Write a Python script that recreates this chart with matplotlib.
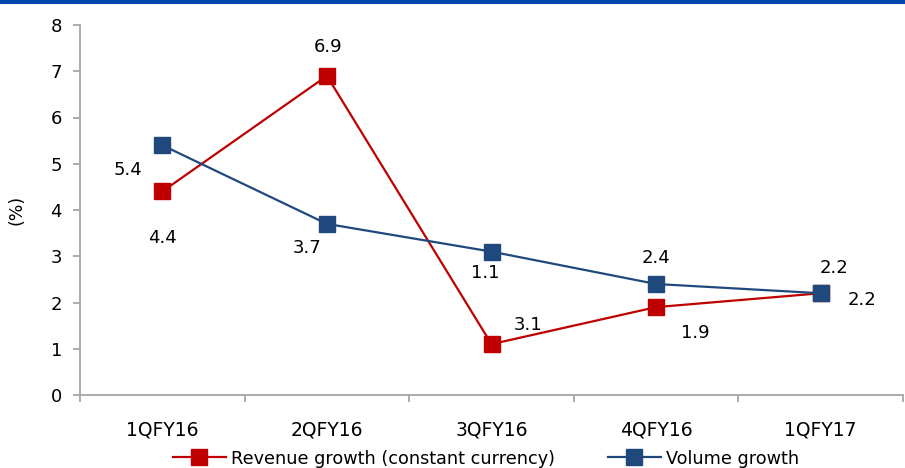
import matplotlib
matplotlib.use('Agg')
import matplotlib.pyplot as plt
from matplotlib.patches import Rectangle

# Quarterly growth figures (%)
quarters = ['1QFY16', '2QFY16', '3QFY16', '4QFY16', '1QFY17']
revenue_growth = [4.4, 6.9, 1.1, 1.9, 2.2]
volume_growth = [5.4, 3.7, 3.1, 2.4, 2.2]

# where each value label sits (data coords)
revenue_label_pos = [(0.0, 3.39), (1.01, 7.52), (1.96, 2.64), (3.24, 1.34), (4.25, 2.05)]
volume_label_pos = [(-0.21, 4.86), (0.88, 3.18), (2.22, 1.51), (3.0, 2.96), (4.08, 2.75)]

red = '#C00000'
blue = '#1F497D'
grey = '#A6A6A6'

plt.rcParams['font.family'] = ['DejaVu Sans']
plt.rcParams['font.size'] = 12

fig = plt.figure(figsize=(9.05, 4.68), dpi=100)
ax = fig.add_axes([80 / 905, 73 / 468, 823 / 905, 370 / 468])

x = list(range(len(quarters)))
ax.plot(x, revenue_growth, color=red, lw=1.6, marker='s', ms=11,
        label='Revenue growth (constant currency)', zorder=3)
ax.plot(x, volume_growth, color=blue, lw=1.6, marker='s', ms=11,
        label='Volume growth', zorder=3)

for v, (tx, ty) in zip(revenue_growth, revenue_label_pos):
    ax.text(tx, ty, f'{v:.1f}', ha='center', va='center', fontsize=13)
for v, (tx, ty) in zip(volume_growth, volume_label_pos):
    ax.text(tx, ty, f'{v:.1f}', ha='center', va='center', fontsize=13)

ax.set_xlim(-0.5, 4.5)
ax.set_ylim(0, 8)
ax.set_yticks(range(0, 9))
ax.set_xticks(x)
ax.set_xticklabels(quarters)
ax.set_xticks([i - 0.5 for i in range(len(quarters) + 1)], minor=True)
ax.tick_params(axis='x', which='major', length=0, pad=18, labelsize=13.5)
ax.tick_params(axis='x', which='minor', length=5, color=grey, width=1.3)
ax.tick_params(axis='y', length=5, color=grey, width=1.3, pad=8, labelsize=13)
ax.set_ylabel('(%)', fontsize=12.5, labelpad=18)

for side in ['top', 'right']:
    ax.spines[side].set_visible(False)
for side in ['left', 'bottom']:
    ax.spines[side].set_color(grey)
    ax.spines[side].set_linewidth(1.3)

# blue rule across the top
fig.add_artist(Rectangle((0, 1 - 4 / 468), 1, 4 / 468, transform=fig.transFigure,
                         color='#0047AB', lw=0))

fig.legend(loc='center', bbox_to_anchor=(0.537, 0.02), ncol=2, frameon=False,
           handlelength=3.0, columnspacing=3.0, handletextpad=0.3,
           fontsize=12.7, borderaxespad=0)

fig.savefig('out.png', dpi=100)
